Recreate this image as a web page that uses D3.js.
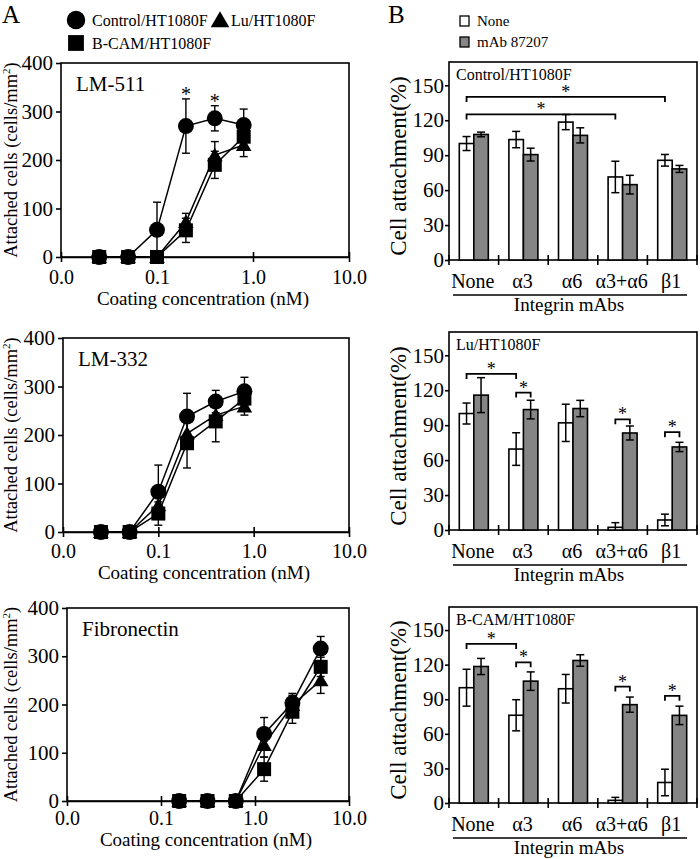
<!DOCTYPE html>
<html><head><meta charset="utf-8">
<script src="https://cdn.jsdelivr.net/npm/d3@7"></script>
<style>
body{margin:0;background:#fff}
svg{display:block}
text{font-family:"Liberation Serif","Times New Roman",serif;fill:#000}
</style>
</head><body>
<svg id="c" width="700" height="859"></svg>
<script>
// ---------- DATA ----------
const seriesNames = ["Control/HT1080F", "Lu/HT1080F", "B-CAM/HT1080F"];
const concLM = [0.025, 0.05, 0.1, 0.2, 0.4, 0.8];
const concFN = [0.156, 0.3125, 0.625, 1.25, 2.5, 5];
const xTickValues = [0.01, 0.1, 1, 10];
const yTickValuesA = [0, 100, 200, 300, 400];

const lm511Control = [0, 0, 56, 270, 286, 272];
const lm511ControlErr = [0, 0, 57, 56, 26, 33];
const lm511Lu = [0, 0, 0, 72, 210, 231];
const lm511LuErr = [0, 0, 0, 18, 28, 24];
const lm511Bcam = [0, 0, 0, 55, 190, 248];
const lm511BcamErr = [0, 0, 0, 25, 28, 12];
const lm511Stars = [3, 4];

const lm332Control = [0, 0, 83, 238, 269, 290];
const lm332ControlErr = [0, 0, 55, 48, 23, 29];
const lm332Lu = [0, 0, 55, 203, 241, 259];
const lm332LuErr = [0, 0, 20, 30, 20, 18];
const lm332Bcam = [0, 0, 38, 183, 228, 275];
const lm332BcamErr = [0, 0, 24, 51, 42, 20];

const fnControl = [0, 0, 0, 139, 203, 316];
const fnControlErr = [0, 0, 0, 34, 20, 25];
const fnLu = [0, 0, 0, 116, 199, 250];
const fnLuErr = [0, 0, 0, 25, 20, 27];
const fnBcam = [0, 0, 0, 66, 185, 278];
const fnBcamErr = [0, 0, 0, 25, 24, 20];

const mAbCats = ["None", "α3", "α6", "α3+α6", "β1"];
const treatNames = ["None", "mAb 87207"];
const yTickValuesB = [0, 30, 60, 90, 120, 150];

const ctrlNone = [100, 103.4, 118.4, 71.3, 85.6];
const ctrlNoneErr = [6, 7, 6.5, 13.5, 5];
const ctrlMab = [107.8, 90.5, 107, 64.7, 78.2];
const ctrlMabErr = [2, 5.5, 6.5, 8, 3];
const ctrlBrackets = [[0, 0, 4, 0, 140], [0, 0, 3, 0, 125]];

const luNone = [100, 69.5, 92, 2.3, 8.6];
const luNoneErr = [9, 14, 16, 4, 5];
const luMab = [115.8, 103.4, 104.3, 83.3, 71.3];
const luMabErr = [15, 8, 7, 6, 4];
const luBrackets = [[0, 0, 1, 0, 134], [1, 0, 1, 1, 118], [3, 0, 3, 1, 95], [4, 0, 4, 1, 84]];

const bcamNone = [100, 76.1, 99.1, 2.3, 17.8];
const bcamNoneErr = [16, 13.5, 12.4, 2.6, 11.5];
const bcamMab = [118.4, 105.7, 123.6, 85.3, 76];
const bcamMabErr = [7, 8, 5, 6.6, 8];
const bcamBrackets = [[0, 0, 1, 0, 138], [1, 0, 1, 1, 122], [3, 0, 3, 1, 101], [4, 0, 4, 1, 93]];

// ---------- DRAWING ----------
const svg = d3.select("#c");
const GREY = "#858585";
const shapes = [d3.symbolCircle, d3.symbolTriangle, d3.symbolSquare];
const markerSize = [200, 105, 196];
const legendSize = [270, 150, 250];

function styleAxis(g, fs) {
  g.attr("font-family", null).attr("font-size", null);
  g.selectAll("text").style("font-size", fs + "px").style("font-family", '"Liberation Serif","Times New Roman",serif');
  g.selectAll("path,line").attr("stroke", "#000").attr("stroke-width", 1.6);
}

function drawLeft(p) {
  const g = svg.append("g");
  const x = d3.scaleLog().domain([0.01, 10]).range([p.L, p.R]);
  const y = d3.scaleLinear().domain([0, 400]).range([p.B, p.T]);
  g.append("rect").attr("x", p.L).attr("y", p.T).attr("width", p.R - p.L).attr("height", p.B - p.T)
    .attr("fill", "none").attr("stroke", "#000").attr("stroke-width", 1.6);
  const ya = g.append("g").attr("transform", `translate(${p.L},0)`)
    .call(d3.axisLeft(y).tickValues(yTickValuesA).tickSize(5).tickSizeOuter(0).tickPadding(3).tickFormat(d3.format("d")));
  styleAxis(ya, 21);
  ya.select(".domain").remove();
  const xa = g.append("g").attr("transform", `translate(0,${p.B})`)
    .call(d3.axisBottom(x).tickValues(xTickValues).tickSizeOuter(0).tickFormat(d3.format(".1f")));
  styleAxis(xa, 20);
  xa.selectAll(".tick line").attr("y1", -5).attr("y2", 5);
  xa.selectAll(".tick text").attr("y", p.tickOff).attr("dy", 0);
  g.append("text").attr("x", (p.L + p.R) / 2 - 2).attr("y", p.B + p.titleOff).attr("text-anchor", "middle")
    .style("font-size", "19px").text("Coating concentration (nM)");
  const yt = g.append("text").attr("transform", `translate(17,${(p.T + p.B) / 2}) rotate(-90)`)
    .attr("text-anchor", "middle").style("font-size", "18.5px");
  yt.append("tspan").text("Attached cells (cells/mm");
  yt.append("tspan").attr("dy", -7).style("font-size", "11px").text("2");
  yt.append("tspan").attr("dy", 7).text(")");
  g.append("text").attr("x", p.L + 15).attr("y", p.T + 28).style("font-size", "21px").text(p.name);

  const order = [1, 0, 2];
  order.forEach(s => {
    const vals = p.series[s][0];
    g.append("path").datum(vals)
      .attr("d", d3.line().x((d, i) => x(p.conc[i])).y(d => y(d)))
      .attr("fill", "none").attr("stroke", "#000").attr("stroke-width", 1.5);
  });
  order.forEach(s => {
    const [vals, errs] = p.series[s];
    vals.forEach((v, i) => {
      const e = errs[i];
      if (!e) return;
      const cx = x(p.conc[i]);
      g.append("line").attr("x1", cx).attr("x2", cx).attr("y1", y(v - e)).attr("y2", y(v + e))
        .attr("stroke", "#000").attr("stroke-width", 1.4);
      [v - e, v + e].forEach(t => g.append("line").attr("x1", cx - 4).attr("x2", cx + 4)
        .attr("y1", y(t)).attr("y2", y(t)).attr("stroke", "#000").attr("stroke-width", 1.4));
    });
  });
  order.forEach(s => {
    const vals = p.series[s][0];
    vals.forEach((v, i) => {
      g.append("path").attr("d", d3.symbol(shapes[s], markerSize[s])())
        .attr("transform", `translate(${x(p.conc[i])},${y(v) + (s === 1 ? 1.5 : 0)})`).attr("fill", "#000");
    });
  });
  (p.stars || []).forEach(i => {
    const v = p.series[0][0][i] + p.series[0][1][i];
    g.append("text").attr("x", x(p.conc[i])).attr("y", y(v) + 2).attr("text-anchor", "middle")
      .style("font-size", "20px").text("*");
  });
}

function drawRight(p) {
  const g = svg.append("g");
  const x0 = d3.scaleBand().domain(mAbCats).range([p.L, p.R]).padding(0);
  const y = d3.scaleLinear().domain([0, 170]).range([p.B, p.T]);
  const barW = 14.5;
  const barX = (ci, j) => x0(mAbCats[ci]) + x0.bandwidth() / 2 - barW + j * barW;
  g.append("rect").attr("x", p.L).attr("y", p.T).attr("width", p.R - p.L).attr("height", p.B - p.T)
    .attr("fill", "none").attr("stroke", "#000").attr("stroke-width", 1.6);
  const ya = g.append("g").attr("transform", `translate(${p.L},0)`)
    .call(d3.axisLeft(y).tickValues(yTickValuesB).tickSize(4).tickSizeOuter(0).tickPadding(1).tickFormat(d3.format("d")));
  styleAxis(ya, 21);
  ya.select(".domain").remove();
  const bounds = d3.range(mAbCats.length + 1).map(i => p.L + i * x0.step());
  bounds.forEach(bx => g.append("line").attr("x1", bx).attr("x2", bx).attr("y1", p.B - 5).attr("y2", p.B + 5)
    .attr("stroke", "#000").attr("stroke-width", 1.6));
  const sets = [[p.none, p.noneErr, "#fff"], [p.mab, p.mabErr, GREY]];
  sets.forEach(([vals, errs, fill], j) => {
    vals.forEach((v, i) => {
      g.append("rect").attr("x", barX(i, j)).attr("y", y(v)).attr("width", barW).attr("height", y(0) - y(v))
        .attr("fill", fill).attr("stroke", "#000").attr("stroke-width", 1.6);
    });
  });
  sets.forEach(([vals, errs], j) => {
    vals.forEach((v, i) => {
      const cx = barX(i, j) + barW / 2, e = errs[i];
      g.append("line").attr("x1", cx).attr("x2", cx).attr("y1", y(Math.max(0, v - e))).attr("y2", y(v + e))
        .attr("stroke", "#000").attr("stroke-width", 1.5);
      [v - e, v + e].forEach(t => { if (t < 0) return; g.append("line").attr("x1", cx - 4).attr("x2", cx + 4)
        .attr("y1", y(t)).attr("y2", y(t)).attr("stroke", "#000").attr("stroke-width", 1.5); });
    });
  });
  p.brackets.forEach(([c1, s1, c2, s2, yv]) => {
    const xa = barX(c1, s1) + barW / 2, xb = barX(c2, s2) + barW / 2, yy = y(yv);
    g.append("path").attr("d", `M${xa},${yy + 5}V${yy}H${xb}V${yy + 5}`)
      .attr("fill", "none").attr("stroke", "#000").attr("stroke-width", 1.8);
    g.append("text").attr("x", (xa + xb) / 2).attr("y", yy + 1).attr("text-anchor", "middle")
      .style("font-size", "18px").text("*");
  });
  mAbCats.forEach(c => g.append("text").attr("x", x0(c) + x0.bandwidth() / 2 - 1).attr("y", p.B + 28)
    .attr("text-anchor", "middle").style("font-size", "20px").text(c));
  g.append("line").attr("x1", p.L + 4).attr("x2", p.R - 10).attr("y1", p.B + 35).attr("y2", p.B + 35)
    .attr("stroke", "#000").attr("stroke-width", 1.5);
  g.append("text").attr("x", (p.L + p.R) / 2 - 4).attr("y", p.B + 51).attr("text-anchor", "middle")
    .style("font-size", "19px").text("Integrin mAbs");
  g.append("text").attr("transform", `translate(406,${(p.T + p.B) / 2 + 5}) rotate(-90)`)
    .attr("text-anchor", "middle").style("font-size", "23px").text("Cell attachment(%)");
  g.append("text").attr("x", p.L + 7).attr("y", p.T + 18).style("font-size", "16px").text(p.name);
}

drawLeft({name: "LM-511", conc: concLM, L: 61, R: 349, T: 63, B: 257, tickOff: 27, titleOff: 48,
  series: [[lm511Control, lm511ControlErr], [lm511Lu, lm511LuErr], [lm511Bcam, lm511BcamErr]], stars: lm511Stars});
drawLeft({name: "LM-332", conc: concLM, L: 63, R: 349, T: 338, B: 532, tickOff: 26, titleOff: 47,
  series: [[lm332Control, lm332ControlErr], [lm332Lu, lm332LuErr], [lm332Bcam, lm332BcamErr]]});
drawLeft({name: "Fibronectin", conc: concFN, L: 67, R: 349, T: 608, B: 801, tickOff: 24, titleOff: 45,
  series: [[fnControl, fnControlErr], [fnLu, fnLuErr], [fnBcam, fnBcamErr]]});

drawRight({name: "Control/HT1080F", L: 449, R: 697, T: 62, B: 260,
  none: ctrlNone, noneErr: ctrlNoneErr, mab: ctrlMab, mabErr: ctrlMabErr, brackets: ctrlBrackets});
drawRight({name: "Lu/HT1080F", L: 449, R: 697, T: 332, B: 530,
  none: luNone, noneErr: luNoneErr, mab: luMab, mabErr: luMabErr, brackets: luBrackets});
drawRight({name: "B-CAM/HT1080F", L: 449, R: 697, T: 607, B: 803,
  none: bcamNone, noneErr: bcamNoneErr, mab: bcamMab, mabErr: bcamMabErr, brackets: bcamBrackets});

svg.append("text").attr("x", 2).attr("y", 23).style("font-size", "25px").text("A");
svg.append("text").attr("x", 388).attr("y", 23).style("font-size", "25px").text("B");

const legA = [[76, 20, 92, 26], [220, 20, 231, 26], [76, 43, 92, 49]];
seriesNames.forEach((n, s) => {
  const [mx, my, tx, ty] = legA[s];
  svg.append("path").attr("d", d3.symbol(shapes[s], legendSize[s])())
    .attr("transform", `translate(${mx},${my + (s === 1 ? 2 : 0)})`).attr("fill", "#000");
  svg.append("text").attr("x", tx).attr("y", ty).style("font-size", "16px").text(n);
});
const legB = [[460, 16, 477, 26], [460, 37, 477, 47]];
treatNames.forEach((n, j) => {
  const [bx, by, tx, ty] = legB[j];
  svg.append("rect").attr("x", bx).attr("y", by).attr("width", 9).attr("height", 10)
    .attr("fill", j ? GREY : "#fff").attr("stroke", "#000").attr("stroke-width", 1.3);
  svg.append("text").attr("x", tx).attr("y", ty).style("font-size", "15px").text(n);
});
</script>
</body></html>
